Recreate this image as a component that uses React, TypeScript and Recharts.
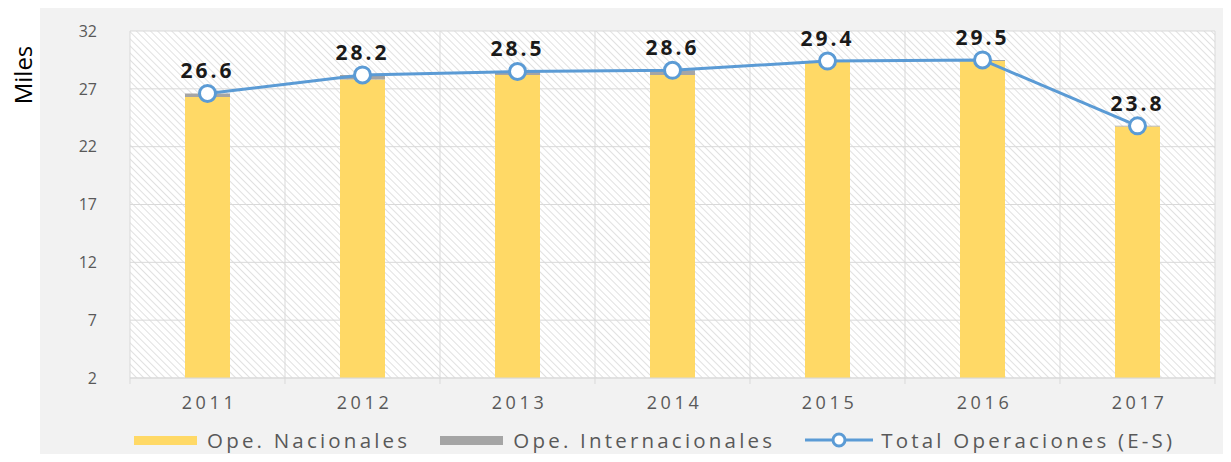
import React from 'react';
import {
    ComposedChart,
    Bar,
    Line,
    XAxis,
    YAxis,
    CartesianGrid,
    Legend,
    LabelList,
} from 'recharts';

const years = ['2011', '2012', '2013', '2014', '2015', '2016', '2017'];
const nacionales = [26.3, 27.8, 28.2, 28.2, 29.35, 29.4, 23.75];
const internacionales = [0.3, 0.4, 0.3, 0.4, 0.05, 0.1, 0.05];
const totales = [26.6, 28.2, 28.5, 28.6, 29.4, 29.5, 23.8];
const yTicks = [2, 7, 12, 17, 22, 27, 32];

const data = years.map((year, i) => ({
    year,
    nac: nacionales[i],
    intl: internacionales[i],
    total: totales[i],
}));

const FONT = '"Open Sans", sans-serif';
const GREY_TEXT = '#595959';
const GRID = '#D9D9D9';
const BLUE = '#5B9BD5';

const XTick = (props: any) => {
    const { x, y, payload, index, width } = props;
    const bw = width / years.length;
    return (
        <g>
            <line x1={x - bw / 2} y1={y} x2={x - bw / 2} y2={y + 6} stroke={GRID} />
            {index === years.length - 1 && (
                <line x1={x + bw / 2} y1={y} x2={x + bw / 2} y2={y + 6} stroke={GRID} />
            )}
            <text
                x={x + 2}
                y={y + 31}
                textAnchor="middle"
                fill={GREY_TEXT}
                fontSize={18}
                fontFamily={FONT}
                letterSpacing={3.6}
            >
                {payload.value}
            </text>
        </g>
    );
};

const legendItems = [
    { label: 'Ope. Nacionales', kind: 'bar', color: '#FFD966' },
    { label: 'Ope. Internacionales', kind: 'bar', color: '#A5A5A5' },
    { label: 'Total Operaciones (E-S)', kind: 'line', color: BLUE },
];

const renderLegend = () => (
    <div
        style={{
            display: 'flex',
            alignItems: 'center',
            paddingLeft: 134,
            height: 44,
            fontFamily: FONT,
            fontSize: 20.5,
            letterSpacing: 3.2,
            color: GREY_TEXT,
            whiteSpace: 'nowrap',
        }}
    >
        {legendItems.map((item) => (
            <div key={item.label} style={{ display: 'flex', alignItems: 'center', marginRight: 30 }}>
                {item.kind === 'bar' ? (
                    <div style={{ width: 63, height: 9, background: item.color, marginRight: 10 }} />
                ) : (
                    <svg width={68} height={18} style={{ marginRight: 8 }}>
                        <line x1={0} y1={9} x2={68} y2={9} stroke={item.color} strokeWidth={3} />
                        <circle cx={34} cy={9} r={6} fill="#fff" stroke={item.color} strokeWidth={3} />
                    </svg>
                )}
                <span>{item.label}</span>
            </div>
        ))}
    </div>
);

export default function App() {
    return (
        <div style={{ position: 'relative', width: 1231, height: 462, margin: -8, background: '#fff' }}>
            <div style={{ position: 'absolute', left: 12, top: 0, width: 870, height: 4, background: '#0070C0' }} />
            <div style={{ position: 'absolute', left: 40, top: 8, right: 0, bottom: 0, background: '#F2F2F2' }} />
            <div
                style={{
                    position: 'absolute',
                    left: 22,
                    top: 75,
                    transform: 'translate(-50%, -50%) rotate(-90deg)',
                    fontFamily: FONT,
                    fontSize: 24,
                    color: '#000',
                }}
            >
                Miles
            </div>
            <div style={{ position: 'absolute', left: 0, top: 0 }}>
                <ComposedChart
                    width={1231}
                    height={462}
                    data={data}
                    margin={{ top: 31, right: 16, left: 0, bottom: 0 }}
                    barCategoryGap="35%"
                >
                    <defs>
                        <pattern
                            id="hatch"
                            width={5}
                            height={5}
                            patternUnits="userSpaceOnUse"
                            patternTransform="rotate(45)"
                        >
                            <rect width={5} height={5} fill="#fff" />
                            <line x1={0} y1={0} x2={5} y2={0} stroke="#DADADA" strokeWidth={1.6} />
                        </pattern>
                    </defs>
                    <CartesianGrid
                        stroke={GRID}
                        fill="url(#hatch)"
                        fillOpacity={1}
                        verticalCoordinatesGenerator={({ offset }: any) =>
                            Array.from({ length: years.length + 1 }, (_, i) => offset.left + (i * offset.width) / years.length)
                        }
                    />
                    <XAxis
                        dataKey="year"
                        height={40}
                        stroke={GRID}
                        tickLine={false}
                        tickSize={0}
                        tickMargin={0}
                        tick={<XTick />}
                        interval={0}
                    />
                    <YAxis
                        width={130}
                        domain={[2, 32]}
                        allowDataOverflow
                        ticks={yTicks}
                        axisLine={false}
                        tickLine={false}
                        tickSize={0}
                        tickMargin={33}
                        tick={{ fill: GREY_TEXT, fontSize: 16, fontFamily: FONT }}
                    />
                    <Legend verticalAlign="bottom" content={renderLegend} wrapperStyle={{ height: 44 }} />
                    <Bar dataKey="nac" name="Ope. Nacionales" stackId="a" fill="#FFD966" barSize={45} isAnimationActive={false} />
                    <Bar dataKey="intl" name="Ope. Internacionales" stackId="a" fill="#A5A5A5" barSize={45} isAnimationActive={false} />
                    <Line
                        dataKey="total"
                        name="Total Operaciones (E-S)"
                        stroke={BLUE}
                        strokeWidth={3}
                        dot={{ r: 8, fill: '#fff', stroke: BLUE, strokeWidth: 3 }}
                        activeDot={false}
                        isAnimationActive={false}
                    >
                        <LabelList
                            dataKey="total"
                            position="top"
                            offset={15}
                            fill="#1a1a1a"
                            fontSize={21}
                            fontWeight="bold"
                            fontFamily={FONT}
                            letterSpacing={3}
                        />
                    </Line>
                </ComposedChart>
            </div>
        </div>
    );
}
